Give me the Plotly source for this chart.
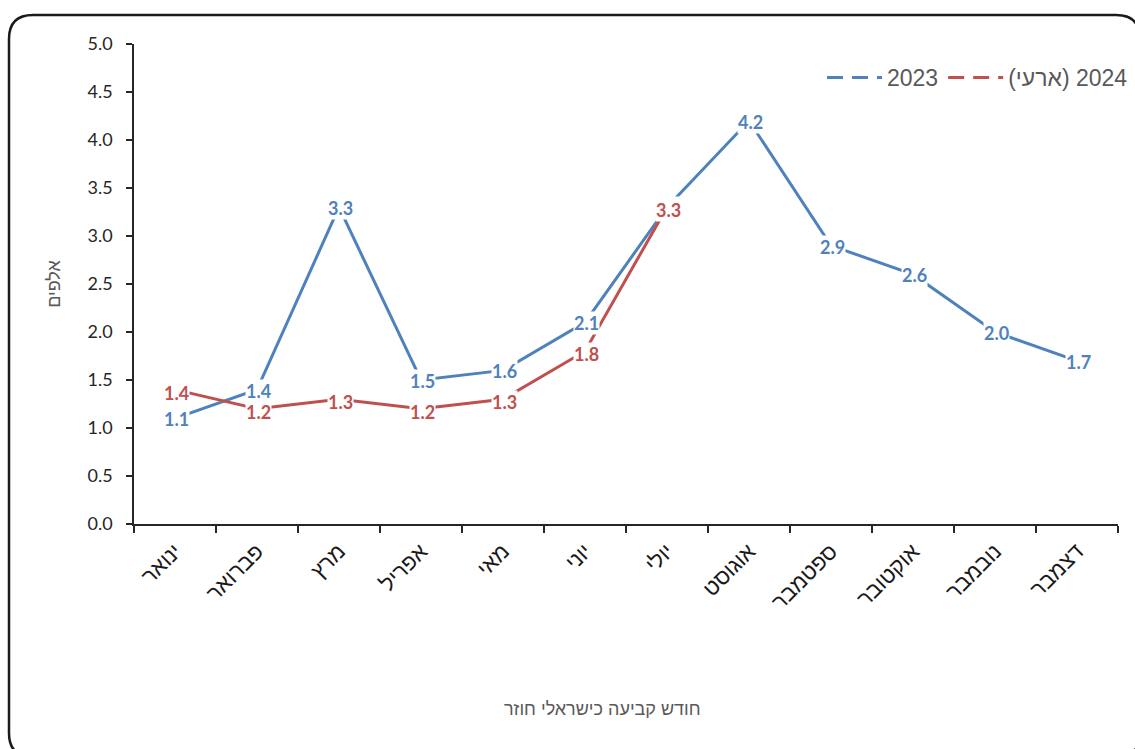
import plotly.graph_objects as go

months = ["ינואר", "פברואר", "מרץ", "אפריל", "מאי", "יוני", "יולי", "אוגוסט",
          "ספטמבר", "אוקטובר", "נובמבר", "דצמבר"]
vals_2023 = [1.1, 1.4, 3.3, 1.5, 1.6, 2.1, 3.3, 4.2, 2.9, 2.6, 2.0, 1.7]
months_2024 = months[:7]
vals_2024 = [1.4, 1.2, 1.3, 1.2, 1.3, 1.8, 3.3]
name_2023 = "2023"
name_2024 = "\u202B2024 (ארעי)\u202C"
y_ticks = [0, 0.5, 1, 1.5, 2, 2.5, 3, 3.5, 4, 4.5, 5]

BLUE = "#4F81BD"
RED = "#C0504D"
W, H = 1135, 749
ML, MR, MT, MB = 134, 17, 44, 225
PW, PH = W - ML - MR, H - MT - MB


def px(x):
    return (x - ML) / PW


def py(y):
    return (H - MB - y) / PH


fig = go.Figure()
fig.add_trace(go.Scatter(x=months, y=vals_2023, mode="lines", line=dict(color=BLUE, width=3),
                         showlegend=False, hoverinfo="skip"))
fig.add_trace(go.Scatter(x=months_2024, y=vals_2024, mode="lines", line=dict(color=RED, width=3),
                         showlegend=False, hoverinfo="skip"))
# legend entries (dashed samples as in the reference)
fig.add_trace(go.Scatter(x=[None], y=[None], mode="lines", name=name_2023,
                         line=dict(color=BLUE, width=3, dash="16px,9px")))
fig.add_trace(go.Scatter(x=[None], y=[None], mode="lines", name=name_2024,
                         line=dict(color=RED, width=3, dash="16px,9px")))

lab_font = dict(family="Lato, Open Sans, sans-serif", size=18, weight="bold")
for xs, ys, col, dy in [(months, vals_2023, BLUE, -1), (months_2024, vals_2024, RED, -3)]:
    for xv, yv in zip(xs, ys):
        fig.add_annotation(x=xv, y=yv, text=f"{yv:.1f}", showarrow=False,
                           font=dict(color=col, **lab_font), bgcolor="white",
                           borderpad=0, yshift=dy, xshift=1)

fig.add_annotation(xref="paper", yref="paper", x=px(602), y=py(709), yanchor="middle",
                   text="חודש קביעה כישראלי חוזר", showarrow=False,
                   font=dict(family="Liberation Sans, Arial, sans-serif", size=18, color="#595959"))

# rounded chart border
L, T, R, B, r = 9, 15, 1140, 757, 24
path = (f"M {px(L + r)} {py(T)} L {px(R - r)} {py(T)} Q {px(R)} {py(T)} {px(R)} {py(T + r)} "
        f"L {px(R)} {py(B - r)} Q {px(R)} {py(B)} {px(R - r)} {py(B)} "
        f"L {px(L + r)} {py(B)} Q {px(L)} {py(B)} {px(L)} {py(B - r)} "
        f"L {px(L)} {py(T + r)} Q {px(L)} {py(T)} {px(L + r)} {py(T)} Z")
fig.add_shape(type="path", xref="paper", yref="paper", path=path,
              line=dict(color="#1a1a1a", width=2.5), layer="below")

fig.update_layout(
    width=W, height=H,
    margin=dict(l=ML, r=MR, t=MT, b=MB, pad=0, autoexpand=False),
    paper_bgcolor="white", plot_bgcolor="white",
    font=dict(family="Liberation Sans, Arial, sans-serif", color="#262626"),
    legend=dict(orientation="h", x=px(822), y=py(56), xanchor="left", yanchor="top",
                font=dict(family="Liberation Sans, Arial, sans-serif", size=23, color="#595959"),
                bgcolor="rgba(0,0,0,0)", itemwidth=55, tracegroupgap=0),
    showlegend=True,
)
fig.update_xaxes(
    type="category", categoryorder="array", categoryarray=months,
    range=[-0.5, 11.5], showgrid=False, zeroline=False,
    showline=True, linecolor="#262626", linewidth=1.5,
    ticks="outside", tickson="boundaries", ticklen=7, tickcolor="#262626", tickwidth=1.5,
    ticklabelstandoff=4,
    tickangle=-45, tickfont=dict(family="Liberation Sans, Arial, sans-serif", size=22, color="#1a1a1a"),
)
fig.update_yaxes(
    range=[0, 5], tickvals=y_ticks, tickformat=".1f", showgrid=False, zeroline=False,
    showline=True, linecolor="#262626", linewidth=1.5,
    ticks="outside", ticklen=6, tickcolor="#262626", tickwidth=1.5,
    ticklabelstandoff=10,
    tickfont=dict(family="Lato, Open Sans, sans-serif", size=18, color="#262626"),
    title=dict(text="אלפים", standoff=22,
               font=dict(family="Liberation Sans, Arial, sans-serif", size=18, color="#595959")),
)

fig.write_html("out.html", config={"displayModeBar": False},
               post_script="document.body.style.margin='0';")
